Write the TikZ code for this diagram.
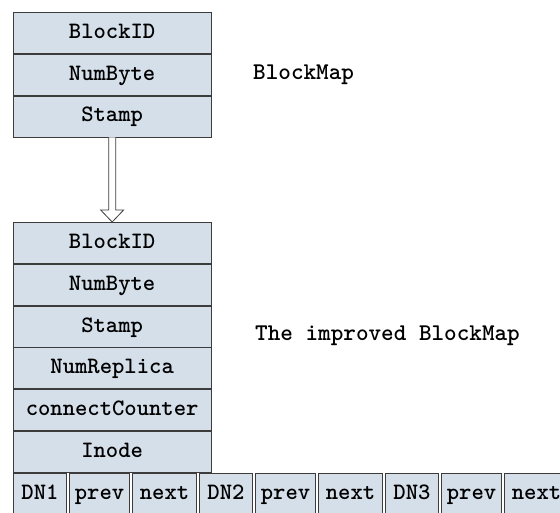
\documentclass[tikz,border=0pt]{standalone}
\usetikzlibrary{positioning}

\definecolor{fondcase}{RGB}{213,223,234}
\definecolor{bordcase}{RGB}{60,60,60}

\tikzset{case/.style = {draw = bordcase, line width = 0.8pt, fill = fondcase,
                        minimum width = #1, minimum height = 41pt, inner sep = 0pt,
                        text height = 16pt, text depth = 5pt,
                        font = \ttfamily\bfseries\fontsize{23.5}{26}\selectfont},
         case/.default = 197.5pt,
         titre/.style = {anchor = west, inner sep = 0pt,
                         font = \ttfamily\bfseries\fontsize{24}{26}\selectfont},
         fleche/.style = {draw = bordcase, line width = 0.8pt, fill = white}
        }

\begin{document}
\begin{tikzpicture}[x=1pt, y=-1pt]
  \useasboundingbox (0,0) rectangle (560,513);
  \clip (0,0) rectangle (560,513);

  \node[case, anchor = north west] (b1) at (13,12) {BlockID};
  \node[case, below = 0pt of b1] (b2) {NumByte};
  \node[case, below = 0pt of b2] (b3) {Stamp};

  \node[case, anchor = north west] (c1) at (13,222) {BlockID};
  \node[case, below = 0pt of c1] (c2) {NumByte};
  \node[case, below = 0pt of c2] (c3) {Stamp};
  \node[case, below = 0pt of c3] (c4) {NumReplica};
  \node[case, below = 0pt of c4] (c5) {connectCounter};
  \node[case, below = 0pt of c5] (c6) {Inode};

  \node[case = 53.2pt, anchor = north west] (dn1) at (c6.south west) {DN1};
  \node[case = 60.2pt, right = 2pt of dn1] (prev1) {prev};
  \node[case = 64.2pt, right = 2pt of prev1] (next1) {next};
  \node[case = 53.2pt, right = 2pt of next1] (dn2) {DN2};
  \node[case = 60.2pt, right = 2pt of dn2] (prev2) {prev};
  \node[case = 64.2pt, right = 2pt of prev2] (next2) {next};
  \node[case = 53.2pt, right = 2pt of next2] (dn3) {DN3};
  \node[case = 60.2pt, right = 2pt of dn3] (prev3) {prev};
  \node[case = 64.2pt, right = 2pt of prev3] (next3) {next};

  \draw[fleche] ([xshift = -3.5pt]b3.south)
        |- ([xshift = -11.5pt, yshift = 12pt]c1.north) -- (c1.north)
        -- ([xshift = 11.5pt, yshift = 12pt]c1.north) -| ([xshift = 3.5pt]b3.south);

  \node[titre] (t1) at (253,75) {BlockMap};
  \node[titre] (t2) at (255,336) {The improved BlockMap};
\end{tikzpicture}
\end{document}
